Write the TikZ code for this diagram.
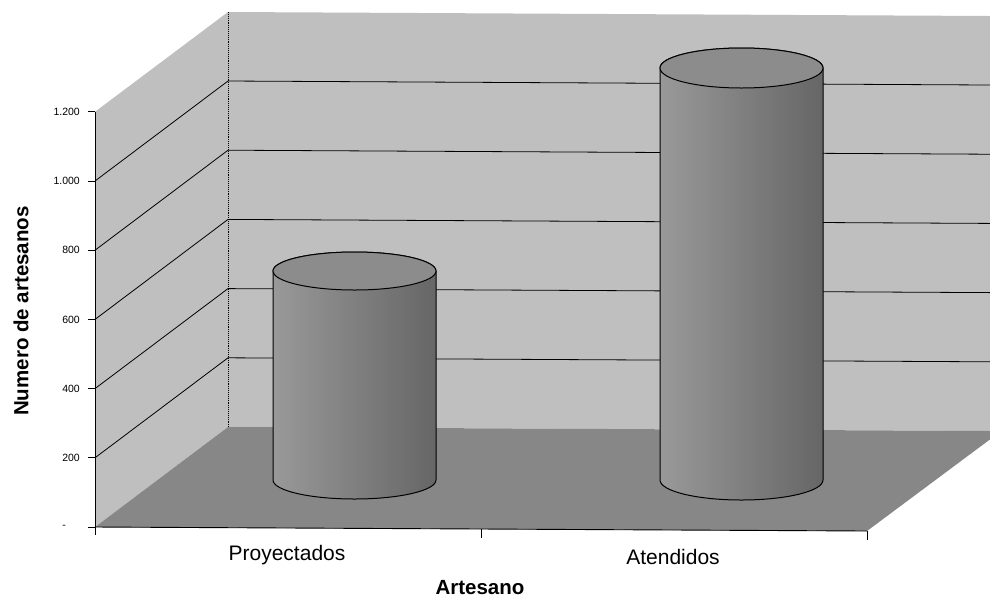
\documentclass[tikz,border=0pt]{standalone}
\usepackage{fontspec}
\setmainfont{Liberation Sans}
\begin{document}
\begin{tikzpicture}[x=1pt,y=-1pt,
  wall/.style={fill=black!25},
  floorfill/.style={fill=black!47},
  grid/.style={draw=black, line width=0.8pt},
  axisline/.style={draw=black, line width=0.9pt},
  cylbody/.style={left color=black!40, right color=black!60, draw=black, line width=1pt},
  cyltop/.style={fill=black!45, draw=black, line width=1pt},
  ticklab/.style={anchor=east, inner sep=0pt, font=\fontsize{10.5}{12}\selectfont},
  catlab/.style={inner sep=0pt, font=\fontsize{21}{24}\selectfont},
  axtitle/.style={inner sep=0pt, font=\bfseries\fontsize{20.5}{24}\selectfont}]
\useasboundingbox (0,0) rectangle (990,598);
% walls
\fill[wall] (228,12) -- (990,16) -- (990,431) -- (228,427) -- cycle;
\fill[wall] (95,527) -- (95,111.8) -- (228,12) -- (228,427) -- cycle;
% floor
\fill[floorfill] (95,527) -- (228,427) -- (990,431) -- (990,439.4) -- (867,531) -- cycle;
% back-left edge
\draw[densely dotted, line width=0.9pt] (228,12) -- (228,427);
% gridlines
\foreach \v in {200,400,600,800,1000}{
  \pgfmathsetmacro{\yf}{527-0.346*\v}
  \pgfmathsetmacro{\yb}{427-0.346*\v}
  \draw[grid] (95,\yf) -- (228,\yb) -- (990,\yb+4);
}
% axes
\draw[axisline] (95,111.8) -- (95,535);
\draw[axisline] (95,527) -- (867,531);
\foreach \v in {0,200,400,600,800,1000,1200}{
  \pgfmathsetmacro{\yf}{527-0.346*\v}
  \draw[axisline] (88,\yf) -- (95,\yf);
}
\draw[axisline] (481,529) -- (481,538);
\draw[axisline] (867,531) -- (867,540);
% tick labels
\node[ticklab] (l1200) at (80,111.8) {1.200};
\node[ticklab] (l1000) at (80,181) {1.000};
\node[ticklab] (l800) at (80,250.2) {800};
\node[ticklab] (l600) at (80,319.4) {600};
\node[ticklab] (l400) at (80,388.6) {400};
\node[ticklab] (l200) at (80,457.8) {200};
\node[ticklab] (l0) at (66,527) {-};
% cylinder 1
\path[cylbody] (273,271) -- (273,480)
  arc[start angle=180, end angle=360, x radius=81.5pt, y radius=19pt]
  -- (436,271) arc[start angle=0, end angle=180, x radius=81.5pt, y radius=19pt] -- cycle;
\path[cyltop] (354.5,271) ellipse [x radius=81.5pt, y radius=19pt];
% cylinder 2
\path[cylbody] (660,68) -- (660,480)
  arc[start angle=180, end angle=360, x radius=81.5pt, y radius=20pt]
  -- (823,68) arc[start angle=0, end angle=180, x radius=81.5pt, y radius=20pt] -- cycle;
\path[cyltop] (741.5,68) ellipse [x radius=81.5pt, y radius=20pt];
% labels
\node[catlab] (proy) at (287,555) {Proyectados};
\node[catlab] (aten) at (673,557) {Atendidos};
\node[axtitle] (xt) at (480,588) {Artesano};
\node[axtitle, rotate=90] (yt) at (21,311) {Numero de artesanos};
\end{tikzpicture}
\end{document}
